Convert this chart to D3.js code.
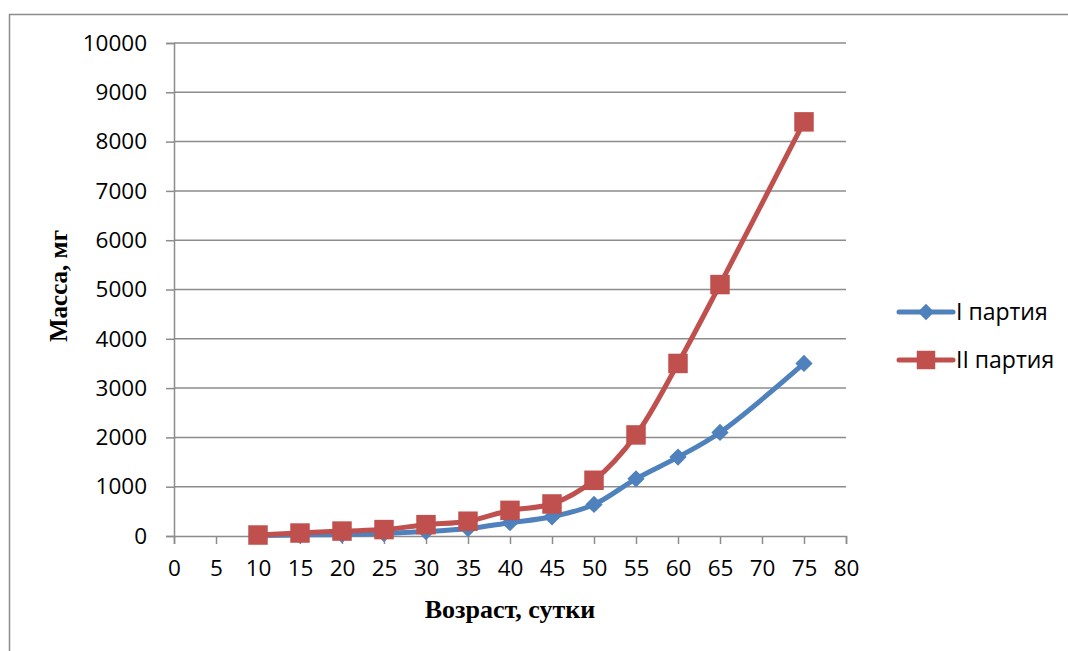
<!DOCTYPE html>
<html>
<head>
<meta charset="utf-8">
<script src="https://cdn.jsdelivr.net/npm/d3@7"></script>
<style>
  html, body { margin: 0; padding: 0; background: #fff; }
  svg { display: block; }
</style>
</head>
<body>
<svg id="chart" width="1068" height="651"></svg>
<script>
// Age in days and mass in mg for two batches
const ages = [10, 15, 20, 25, 30, 35, 40, 45, 50, 55, 60, 65, 75];
const batch1 = [10, 20, 30, 50, 90, 150, 270, 390, 640, 1160, 1600, 2100, 3500];
const batch2 = [20, 60, 100, 130, 230, 300, 520, 650, 1130, 2050, 3500, 5100, 8400];
const seriesNames = ["I партия", "II партия"];
const xTicks = [0, 5, 10, 15, 20, 25, 30, 35, 40, 45, 50, 55, 60, 65, 70, 75, 80];
const yTicks = [0, 1000, 2000, 3000, 4000, 5000, 6000, 7000, 8000, 9000, 10000];
const xTitle = "Возраст, сутки";
const yTitle = "Масса, мг";

const svg = d3.select("#chart");
const plotLeft = 174, plotRight = 846, plotTop = 43, plotBottom = 536;
const x = d3.scaleLinear().domain([0, 80]).range([plotLeft, plotRight]);
const y = d3.scaleLinear().domain([0, 10000]).range([plotBottom, plotTop]);

const gridColor = "#8c8c8c";
const tickFont = "'Open Sans', 'Liberation Sans', sans-serif";
const tickSize = 22.5;

// outer frame
svg.append("rect")
  .attr("x", 9.5).attr("y", 14.5)
  .attr("width", 1080).attr("height", 700)
  .attr("fill", "none").attr("stroke", "#8c8c8c").attr("stroke-width", 1.5);

// horizontal grid lines
svg.append("g").selectAll("line").data(yTicks.filter(d => d > 0)).join("line")
  .attr("x1", plotLeft).attr("x2", plotRight)
  .attr("y1", d => y(d)).attr("y2", d => y(d))
  .attr("stroke", gridColor).attr("stroke-width", 1.5);

// y axis
const yAxis = svg.append("g")
  .attr("transform", `translate(${plotLeft},0)`)
  .call(d3.axisLeft(y).tickValues(yTicks).tickSize(8).tickPadding(19).tickFormat(d3.format("d")));
yAxis.select(".domain").attr("stroke", gridColor).attr("stroke-width", 1.5);
yAxis.selectAll(".tick line").attr("stroke", gridColor).attr("stroke-width", 1.5);
yAxis.selectAll("text").attr("font-family", tickFont).attr("font-size", tickSize).attr("fill", "#000");

// x axis
const xAxis = svg.append("g")
  .attr("transform", `translate(0,${plotBottom})`)
  .call(d3.axisBottom(x).tickValues(xTicks).tickSize(8).tickPadding(16).tickFormat(d3.format("d")));
xAxis.select(".domain").attr("stroke", gridColor).attr("stroke-width", 1.5);
xAxis.selectAll(".tick line").attr("stroke", gridColor).attr("stroke-width", 1.5);
xAxis.selectAll("text").attr("font-family", tickFont).attr("font-size", tickSize).attr("fill", "#000");

// axis titles
svg.append("text")
  .attr("x", 510).attr("y", 618)
  .attr("text-anchor", "middle")
  .attr("font-family", "'Liberation Serif', 'Times New Roman', serif")
  .attr("font-weight", "bold").attr("font-size", 26)
  .text(xTitle);
svg.append("text")
  .attr("transform", "translate(67,286) rotate(-90)")
  .attr("text-anchor", "middle")
  .attr("font-family", "'Liberation Serif', 'Times New Roman', serif")
  .attr("font-weight", "bold").attr("font-size", 25)
  .text(yTitle);

const line = d3.line().x(d => x(d[0])).y(d => y(d[1])).curve(d3.curveCatmullRom.alpha(0.5));
const series = [
  { name: seriesNames[0], values: batch1, color: "#4F81BD", symbol: d3.symbolDiamond2, size: 190 },
  { name: seriesNames[1], values: batch2, color: "#C0504D", symbol: d3.symbolSquare, size: 380 }
];

series.forEach(s => {
  const pts = ages.map((a, i) => [a, s.values[i]]);
  svg.append("path")
    .attr("d", line(pts))
    .attr("fill", "none").attr("stroke", s.color)
    .attr("stroke-width", 5).attr("stroke-linejoin", "round");
  svg.append("g").selectAll("path").data(pts).join("path")
    .attr("transform", d => `translate(${x(d[0])},${y(d[1])})`)
    .attr("d", d3.symbol().type(s.symbol).size(s.size))
    .attr("fill", s.color);
});

// legend
const legend = svg.append("g");
series.forEach((s, i) => {
  const ly = 312 + i * 48;
  legend.append("line")
    .attr("x1", 899).attr("x2", 953).attr("y1", ly).attr("y2", ly)
    .attr("stroke", s.color).attr("stroke-width", 5).attr("stroke-linecap", "round");
  legend.append("path")
    .attr("transform", `translate(926,${ly})`)
    .attr("d", d3.symbol().type(s.symbol).size(s.size * 0.9))
    .attr("fill", s.color);
  legend.append("text")
    .attr("x", 956).attr("y", ly)
    .attr("dy", "0.36em")
    .attr("font-family", tickFont).attr("font-size", 23)
    .text(s.name);
});
</script>
</body>
</html>
